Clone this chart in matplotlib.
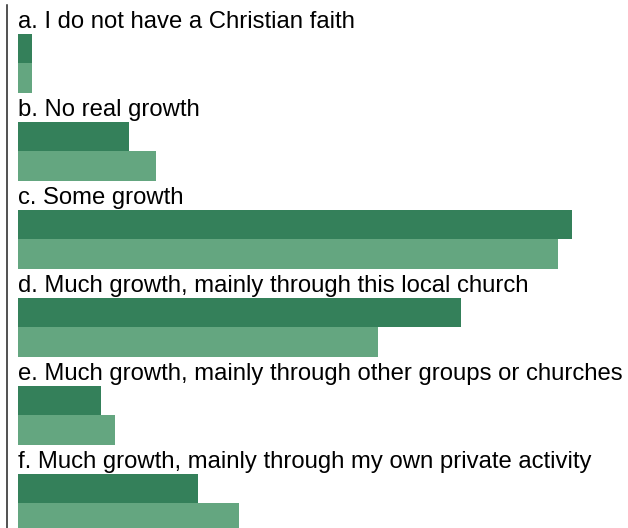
import matplotlib
matplotlib.use("Agg")
import matplotlib.pyplot as plt

# --- data ---
categories = [
    "a. I do not have a Christian faith",
    "b. No real growth",
    "c. Some growth",
    "d. Much growth, mainly through this local church",
    "e. Much growth, mainly through other groups or churches",
    "f. Much growth, mainly through my own private activity",
]
series_dark = [1, 8, 40, 32, 6, 13]
series_light = [1, 10, 39, 26, 7, 16]

DARK = "#34805a"
LIGHT = "#64a680"

W, H, DPI = 628, 528, 100
fig = plt.figure(figsize=(W / DPI, H / DPI), dpi=DPI)

left_px, top_px = 17.7, 4.7
slot_px = 29.33
n_slots = 3 * len(categories)
ax_h_px = slot_px * n_slots
ax_w_px = W - left_px - 4
ax = fig.add_axes([left_px / W, (H - top_px - ax_h_px) / H, ax_w_px / W, ax_h_px / H])

px_per_unit = 13.86
ax.set_xlim(0, ax_w_px / px_per_unit)
ax.set_ylim(n_slots - 0.5, -0.5)

for i, (lab, d, l) in enumerate(zip(categories, series_dark, series_light)):
    base = 3 * i
    ax.barh(base + 1, d, height=1.0, color=DARK, linewidth=0)
    ax.barh(base + 2, l, height=1.0, color=LIGHT, linewidth=0)
    ax.text(0.05, base + 0.31, lab, ha="left", va="baseline",
            fontsize=17.2, family="Liberation Sans", color="#000000")

for s in ["top", "right", "bottom"]:
    ax.spines[s].set_visible(False)
ax.spines["left"].set_position(("outward", 11.0 * 72 / DPI))
ax.spines["left"].set_linewidth(1.1)
ax.spines["left"].set_color("#222222")
ax.set_xticks([])
ax.set_yticks([])

fig.savefig("out.png", dpi=DPI)
